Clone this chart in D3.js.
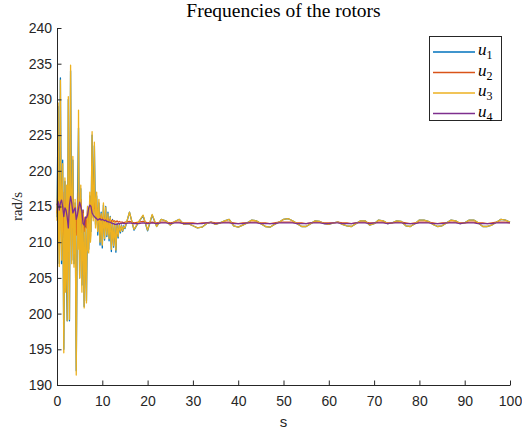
<!DOCTYPE html>
<html>

<head>

<meta charset="utf-8">
<style>

    body {
        margin: 0;
        background: #fff;
    }

    .axis path,
    .axis line {
        stroke: #262626;
    }

    .axis text {
        font-family: "Liberation Sans", Arial, sans-serif;
        font-size: 14px;
        fill: #262626;
    }

    .series {
        fill: none;
        stroke-width: 1.3;
        stroke-linejoin: round;
    }

</style>

</head>

<body>

<script src="https://d3js.org/d3.v7.min.js"></script>

<script>

    // sample times: u3 is logged twice as often in the first 15 s
    var time = d3.range(0, 15.001, 0.25).concat(d3.range(16, 100.5, 1));
    var timeFine = d3.range(0, 15.001, 0.125).concat(d3.range(16, 100.5, 1));

    var names = ["u1", "u2", "u3", "u4"];
    var colors = ["#0072BD", "#D95319", "#EDB120", "#7E2F8E"];

    var xTicks = [0, 10, 20, 30, 40, 50, 60, 70, 80, 90, 100];
    var yTicks = [190, 195, 200, 205, 210, 215, 220, 225, 230, 235, 240];

    var u1 = [
        213.5, 229.0, 207.0, 233.0, 207.0, 221.5, 195.0, 218.5, 207.5, 199.0,
        230.0, 199.0, 234.0, 207.5, 221.5, 207.0, 215.5, 192.0, 214.5, 226.0,
        205.0, 217.5, 204.0, 214.5, 201.0, 212.5, 201.8, 215.0, 209.0, 216.5,
        211.5, 225.0, 213.5, 223.5, 212.5, 216.5, 211.0, 215.5, 209.6, 214.2,
        209.2, 215.2, 210.3, 215.0, 210.8, 214.2, 210.2, 213.6, 208.7, 213.2,
        209.3, 212.6, 208.6, 212.6, 210.6, 212.5, 211.3, 212.4, 211.5, 212.3,
        211.9,
        214.2, 211.7, 212.8, 213.7, 211.6, 213.8, 212.2, 213.2, 213.0, 212.4,
        212.9, 213.2, 212.5, 212.6, 212.3, 212.0, 212.1, 212.6, 212.8, 212.5,
        212.7, 213.0, 213.2, 212.3, 212.1, 212.4, 212.7, 213.1, 213.0, 212.6,
        212.2, 212.1, 212.5, 212.8, 213.2, 213.3, 213.0, 212.6, 212.2, 212.2,
        212.6, 213.0, 212.9, 212.6, 212.5, 212.7, 212.8, 212.5, 212.3, 212.2,
        212.6, 213.0, 213.0, 212.4, 212.6, 213.1, 213.0, 212.6, 212.7, 213.0,
        212.9, 212.3, 212.2, 212.6, 213.1, 213.1, 212.9, 212.5, 212.2, 212.3,
        212.7, 213.1, 213.0, 212.6, 212.7, 213.1, 213.1, 212.7, 212.2, 212.2,
        212.4, 212.8, 213.2, 213.1, 212.8
    ];

    var u2 = [
        214.0, 218.0, 212.0, 219.0, 213.0, 217.0, 211.0, 216.0, 212.0, 216.5,
        211.0, 216.0, 217.5, 212.0, 215.5, 212.5, 215.0, 211.0, 214.5, 217.0,
        213.0, 216.0, 212.5, 214.5, 211.5, 213.5, 212.0, 214.5, 213.0, 215.0,
        213.5, 215.8, 214.5, 215.5, 213.8, 214.8, 213.5, 214.2, 213.0, 213.8,
        213.0, 213.6, 213.0, 213.4, 213.0, 213.3, 213.0, 213.2, 212.9, 213.1,
        212.9, 213.0, 212.8, 213.0, 212.8, 212.9, 212.8, 212.8, 212.8, 212.7,
        212.8,
        212.9, 212.7, 212.8, 212.9, 212.7, 212.8, 212.7, 212.8, 212.8, 212.7,
        212.8, 212.8, 212.7, 212.7, 212.7, 212.6, 212.7, 212.7, 212.8, 212.7,
        212.7, 212.8, 212.8, 212.7, 212.6, 212.7, 212.7, 212.8, 212.8, 212.7,
        212.7, 212.6, 212.7, 212.8, 212.8, 212.8, 212.8, 212.7, 212.7, 212.6,
        212.7, 212.8, 212.8, 212.7, 212.7, 212.7, 212.8, 212.7, 212.7, 212.6,
        212.7, 212.8, 212.8, 212.7, 212.7, 212.8, 212.8, 212.7, 212.7, 212.8,
        212.8, 212.7, 212.6, 212.7, 212.8, 212.8, 212.8, 212.7, 212.6, 212.7,
        212.7, 212.8, 212.8, 212.7, 212.7, 212.8, 212.8, 212.7, 212.7, 212.6,
        212.7, 212.8, 212.8, 212.8, 212.7
    ];

    var u3 = [
        // 0 .. 15 s, every 0.125 s
        213.0, 218.0, 229.5, 210.0, 206.6, 216.0, 232.7, 212.0,
        207.5, 217.0, 221.0, 208.0, 194.5, 209.0, 219.0, 203.0,
        208.0, 218.0, 199.0, 214.0, 230.4, 208.0, 199.2, 220.0,
        234.8, 212.0, 207.0, 217.0, 222.0, 210.0, 206.5, 214.0,
        216.0, 203.0, 191.4, 205.0, 214.0, 209.0, 228.5, 212.0,
        205.0, 213.0, 218.0, 207.0, 203.0, 212.0, 214.0, 206.0,
        200.8, 210.0, 212.0, 205.0, 201.5, 211.0, 215.0, 209.0,
        208.5, 214.0, 217.0, 210.0, 211.0, 219.0, 225.5, 214.0,
        213.0, 218.0, 224.0, 215.0, 212.0, 216.0, 217.0, 212.5,
        211.5, 214.5, 216.0, 212.0, 210.0, 213.0, 214.0, 211.0,
        209.6, 213.0, 215.5, 212.0, 210.5, 213.0, 214.9, 212.0,
        211.0, 213.0, 214.0, 211.5, 210.5, 212.5, 213.5, 211.0,
        209.0, 211.5, 213.0, 210.5, 209.5, 211.5, 212.8, 210.5,
        208.9, 211.0, 212.5, 211.5, 210.8, 211.8, 212.4, 211.8,
        211.5, 212.0, 212.3, 211.9, 211.6, 212.0, 212.2, 212.1,
        212.0,
        // 16 .. 100 s, every second
        214.2, 211.8, 212.8, 213.8, 211.7, 213.9, 212.2, 213.2, 213.0, 212.4,
        212.9, 213.2, 212.5, 212.6, 212.3, 212.0, 212.1, 212.6, 212.8, 212.5,
        212.7, 213.0, 213.2, 212.3, 212.1, 212.4, 212.7, 213.1, 213.0, 212.6,
        212.2, 212.1, 212.5, 212.8, 213.2, 213.3, 213.0, 212.6, 212.2, 212.2,
        212.6, 213.0, 212.9, 212.6, 212.5, 212.7, 212.8, 212.5, 212.3, 212.2,
        212.6, 213.0, 213.0, 212.4, 212.6, 213.1, 213.0, 212.6, 212.7, 213.0,
        212.9, 212.3, 212.2, 212.6, 213.1, 213.1, 212.9, 212.5, 212.2, 212.3,
        212.7, 213.1, 213.0, 212.6, 212.7, 213.1, 213.1, 212.7, 212.2, 212.2,
        212.4, 212.8, 213.2, 213.1, 212.8
    ];

    var u4 = [
        215.2, 215.7, 214.5, 215.5, 215.9, 215.0, 213.6, 214.8, 214.5, 213.5,
        212.0, 215.2, 216.4, 215.5, 214.1, 214.5, 214.8, 213.2, 213.8, 214.7,
        215.6, 215.0, 214.3, 212.6, 212.4, 213.5, 213.4, 213.8, 214.8, 215.2,
        215.0, 214.1, 213.8, 213.6, 213.4, 213.3, 213.1, 213.2, 213.3, 213.1,
        213.2, 213.1, 213.0, 213.1, 212.9, 212.9, 212.8, 212.8, 212.7, 212.6,
        212.6, 212.5, 212.5, 212.5, 212.6, 212.6, 212.6, 212.6, 212.7, 212.6,
        212.6,
        212.7, 212.6, 212.6, 212.7, 212.6, 212.7, 212.6, 212.7, 212.7, 212.6,
        212.7, 212.7, 212.6, 212.6, 212.6, 212.6, 212.6, 212.7, 212.7, 212.6,
        212.7, 212.7, 212.7, 212.6, 212.6, 212.6, 212.7, 212.7, 212.7, 212.6,
        212.6, 212.6, 212.6, 212.7, 212.7, 212.7, 212.7, 212.6, 212.6, 212.6,
        212.7, 212.7, 212.7, 212.6, 212.6, 212.7, 212.7, 212.6, 212.6, 212.6,
        212.7, 212.7, 212.7, 212.6, 212.7, 212.7, 212.7, 212.6, 212.7, 212.7,
        212.7, 212.6, 212.6, 212.6, 212.7, 212.7, 212.7, 212.6, 212.6, 212.6,
        212.7, 212.7, 212.7, 212.6, 212.7, 212.7, 212.7, 212.6, 212.6, 212.6,
        212.6, 212.7, 212.7, 212.7, 212.7
    ];

    var series = [
        { values: u1, t: time },
        { values: u2, t: time },
        { values: u3, t: timeFine },
        { values: u4, t: time }
    ];

    var width = 522,
        height = 430,
        plotLeft = 57,
        plotRight = 510,
        plotTop = 28,
        plotBottom = 385;

    var svg = d3.select("body").append("svg")
        .attr("width", width)
        .attr("height", height);

    var x = d3.scaleLinear().domain([0, 100]).range([plotLeft, plotRight]);
    var y = d3.scaleLinear().domain([190, 240]).range([plotBottom, plotTop]);

    svg.append("g")
        .selectAll("path")
        .data(series)
        .enter().append("path")
        .attr("class", "series")
        .attr("stroke", function(d, i) { return colors[i]; })
        .attr("d", function(s) {
            return d3.line()
                .x(function(d, i) { return x(s.t[i]); })
                .y(function(d) { return y(d); })(s.values);
        });

    // matlab style axes: ticks pointing inwards, no box
    svg.append("g")
        .attr("class", "axis")
        .attr("transform", "translate(0," + plotBottom + ")")
        .call(d3.axisBottom(x).tickValues(xTicks).tickSizeInner(-4.5).tickSizeOuter(0).tickPadding(11));

    svg.append("g")
        .attr("class", "axis")
        .attr("transform", "translate(" + plotLeft + ",0)")
        .call(d3.axisLeft(y).tickValues(yTicks).tickSizeInner(-4.5).tickSizeOuter(0).tickPadding(5));

    svg.append("text")
        .attr("x", (plotLeft + plotRight) / 2)
        .attr("y", 17)
        .attr("text-anchor", "middle")
        .style("font-family", "'Liberation Serif', serif")
        .style("font-size", "19.5px")
        .style("fill", "#000")
        .text("Frequencies of the rotors");

    svg.append("text")
        .attr("transform", "translate(22," + (plotTop + plotBottom) / 2 + ") rotate(-90)")
        .attr("text-anchor", "middle")
        .style("font-family", "'Liberation Serif', serif")
        .style("font-size", "15px")
        .style("fill", "#262626")
        .text("rad/s");

    svg.append("text")
        .attr("x", (plotLeft + plotRight) / 2)
        .attr("y", 427)
        .attr("text-anchor", "middle")
        .style("font-family", "'Liberation Sans', Arial, sans-serif")
        .style("font-size", "15px")
        .style("fill", "#262626")
        .text("s");

    // legend
    var legend = svg.append("g")
        .attr("transform", "translate(429,36)");

    legend.append("rect")
        .attr("x", 0.5)
        .attr("y", 0.5)
        .attr("width", 72)
        .attr("height", 84)
        .attr("fill", "#fff")
        .attr("stroke", "#262626")
        .attr("stroke-width", 1);

    var item = legend.selectAll(".item")
        .data(names)
        .enter().append("g")
        .attr("class", "item")
        .attr("transform", function(d, i) { return "translate(0," + (16 + i * 20.5) + ")"; });

    item.append("line")
        .attr("x1", 4)
        .attr("x2", 46)
        .attr("stroke", function(d, i) { return colors[i]; })
        .attr("stroke-width", 1.3);

    var label = item.append("text")
        .attr("x", 49)
        .attr("y", 3)
        .style("font-family", "'Liberation Serif', serif")
        .style("font-size", "17px")
        .style("fill", "#000");

    label.append("tspan")
        .style("font-style", "italic")
        .text("u");

    label.append("tspan")
        .attr("dy", 4)
        .style("font-size", "12px")
        .text(function(d) { return d.slice(1); });

</script>
</body>
</html>
